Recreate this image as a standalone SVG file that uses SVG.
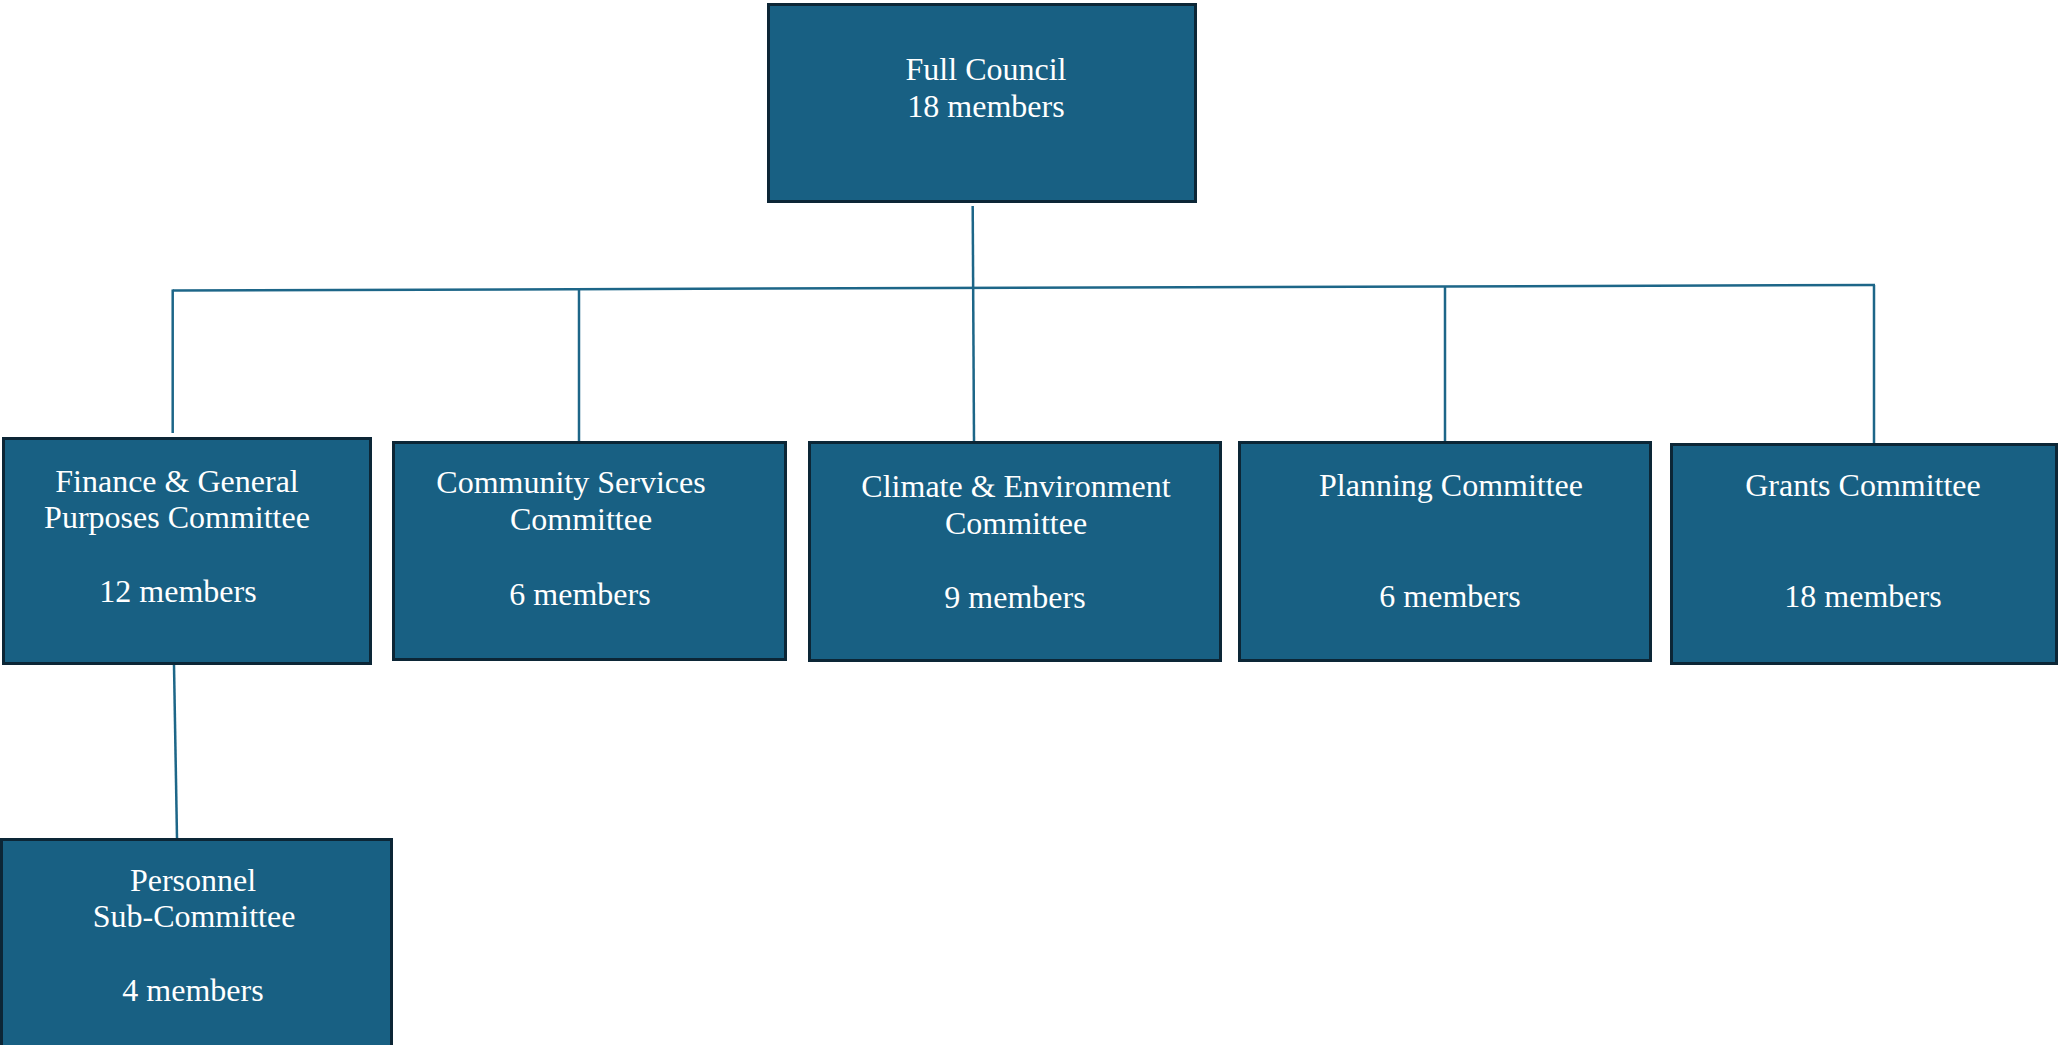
<svg xmlns="http://www.w3.org/2000/svg" width="2059" height="1045" viewBox="0 0 2059 1045">
<style>
.box{fill:#186083;stroke:#0c2636;stroke-width:3}
.t{font-family:"Liberation Serif","Times New Roman",serif;font-size:32px;fill:#ffffff;text-anchor:middle}
.c{stroke:#1d6688;stroke-width:2.5;fill:none}
</style>
<rect width="2059" height="1045" fill="#ffffff"/>
<g id="connectors">
<line class="c" x1="972.7" y1="206" x2="974" y2="441"/>
<line class="c" x1="172.7" y1="290.5" x2="1875" y2="285"/>
<line class="c" x1="172.7" y1="289.5" x2="172.7" y2="433"/>
<line class="c" x1="579" y1="289" x2="579" y2="441"/>
<line class="c" x1="1445" y1="287" x2="1445" y2="441"/>
<line class="c" x1="1874" y1="285" x2="1874" y2="443"/>
<line class="c" x1="174" y1="665" x2="177" y2="838"/>
</g>
<g id="full-council">
<rect class="box" x="768.5" y="4.5" width="427" height="197"/>
<text class="t" x="986" y="80">Full Council</text>
<text class="t" x="986" y="117">18 members</text>
</g>
<g id="finance">
<rect class="box" x="3.5" y="438.5" width="367" height="225"/>
<text class="t" x="177" y="492">Finance &amp; General</text>
<text class="t" x="177" y="528">Purposes Committee</text>
<text class="t" x="178" y="602">12 members</text>
</g>
<g id="community">
<rect class="box" x="393.5" y="442.5" width="392" height="217"/>
<text class="t" x="571" y="493">Community Services</text>
<text class="t" x="581" y="530">Committee</text>
<text class="t" x="580" y="605">6 members</text>
</g>
<g id="climate">
<rect class="box" x="809.5" y="442.5" width="411" height="218"/>
<text class="t" x="1016" y="497">Climate &amp; Environment</text>
<text class="t" x="1016" y="534">Committee</text>
<text class="t" x="1015" y="608">9 members</text>
</g>
<g id="planning">
<rect class="box" x="1239.5" y="442.5" width="411" height="218"/>
<text class="t" x="1451" y="496">Planning Committee</text>
<text class="t" x="1450" y="607">6 members</text>
</g>
<g id="grants">
<rect class="box" x="1671.5" y="444.5" width="385" height="219"/>
<text class="t" x="1863" y="496">Grants Committee</text>
<text class="t" x="1863" y="607">18 members</text>
</g>
<g id="personnel">
<rect class="box" x="1.5" y="839.5" width="390" height="220"/>
<text class="t" x="193" y="891">Personnel</text>
<text class="t" x="194" y="927">Sub-Committee</text>
<text class="t" x="193" y="1001">4 members</text>
</g>
</svg>
